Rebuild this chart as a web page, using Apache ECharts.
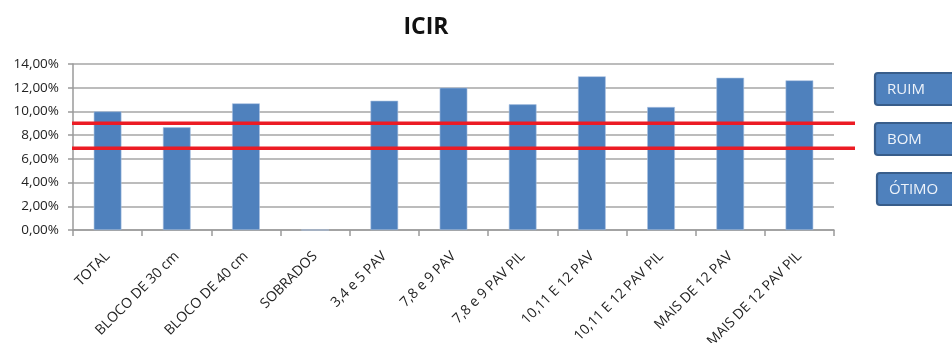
<!DOCTYPE html>
<html>
<head>
<meta charset="utf-8">
<script src="https://cdn.jsdelivr.net/npm/echarts@6/dist/echarts.min.js"></script>
<style>
  html, body { margin: 0; padding: 0; background: #ffffff; }
  #chart { width: 952px; height: 343px; }
</style>
</head>
<body>
<div id="chart"></div>
<script>
// Categories along the x axis
const categories = [
  'TOTAL', 'BLOCO DE 30 cm', 'BLOCO DE 40 cm', 'SOBRADOS', '3,4 e 5 PAV',
  '7,8 e 9 PAV', '7,8 e 9 PAV PIL', '10,11 E 12 PAV', '10,11 E 12 PAV PIL',
  'MAIS DE 12 PAV', 'MAIS DE 12 PAV PIL'
];
// ICIR per category, in percent
const icirValues = [10.0, 8.66, 10.68, 0, 10.9, 12.0, 10.6, 12.96, 10.37, 12.84, 12.62];
// Reference levels drawn as red lines, in percent
const thresholds = [9.0, 6.9];
// Y-axis range and step, in percent
const yMin = 0, yMax = 14, yStep = 2;
// Rating boxes shown at the right
const ratingLabels = ['RUIM', 'BOM', 'ÓTIMO'];

const font = '"Open Sans", "Noto Sans", sans-serif';
const chart = echarts.init(document.getElementById('chart'), null, { renderer: 'canvas' });

// Fixed plot rectangle; labels may run off the canvas edge
const GRID = { left: 73, right: 118, top: 64, bottom: 113, containLabel: false, outerBoundsMode: 'none' };

chart.setOption({
  animation: false,
  backgroundColor: '#ffffff',
  title: {
    text: 'ICIR',
    left: 421,
    top: 11,
    textAlign: 'center',
    textStyle: { fontFamily: font, fontWeight: 'bold', fontSize: 23, color: '#111111' }
  },
  grid: GRID,
  xAxis: {
    type: 'category',
    data: categories,
    boundaryGap: true,
    axisLine: { lineStyle: { color: '#9a9a9a', width: 1.5 } },
    axisTick: { show: true, length: 6, alignWithLabel: false, lineStyle: { color: '#9a9a9a', width: 1.5 } },
    axisLabel: { interval: 0, rotate: 45, margin: 24, hideOverlap: false, fontFamily: font, fontSize: 14, color: '#222222' }
  },
  yAxis: {
    type: 'value',
    min: yMin, max: yMax, interval: yStep,
    axisLine: { show: true, lineStyle: { color: '#9a9a9a', width: 1.5 } },
    axisTick: { show: true, length: 5, lineStyle: { color: '#9a9a9a', width: 1.5 } },
    splitLine: { lineStyle: { color: '#a6a6a6', width: 1.5 } },
    axisLabel: {
      margin: 14,
      fontFamily: font, fontSize: 13.5, color: '#222222',
      formatter: v => v.toFixed(2).replace('.', ',') + '%'
    }
  },
  series: [{
    type: 'bar',
    data: icirValues,
    barWidth: '40%',
    itemStyle: { color: '#4f81bd', borderColor: '#a9c1e0', borderWidth: 0.6 }
  }]
});

// Red threshold lines, placed with the y-axis scale and running past the plot
const lineRight = 855;
const graphics = thresholds.map(t => {
  const y = chart.convertToPixel({ yAxisIndex: 0 }, t);
  return {
    type: 'line',
    shape: { x1: GRID.left - 1, y1: y, x2: lineRight, y2: y },
    style: { stroke: '#ec1c24', lineWidth: 3.5 },
    z: 100
  };
});

// Rating boxes (they run off the right edge)
const boxTops = [73, 123, 173];
const boxLefts = [875, 875, 877];
ratingLabels.forEach((label, i) => {
  graphics.push({
    type: 'rect',
    shape: { x: boxLefts[i], y: boxTops[i], width: 110, height: 32, r: 3 },
    style: { fill: '#4f81bd', stroke: '#385d8a', lineWidth: 2.2 },
    z: 100
  });
  graphics.push({
    type: 'text',
    x: boxLefts[i] + 12,
    y: boxTops[i] + 17,
    style: { text: label, fill: '#eef3fa', font: '15px ' + font, textVerticalAlign: 'middle' },
    z: 101
  });
});

chart.setOption({ graphic: graphics });
</script>
</body>
</html>
